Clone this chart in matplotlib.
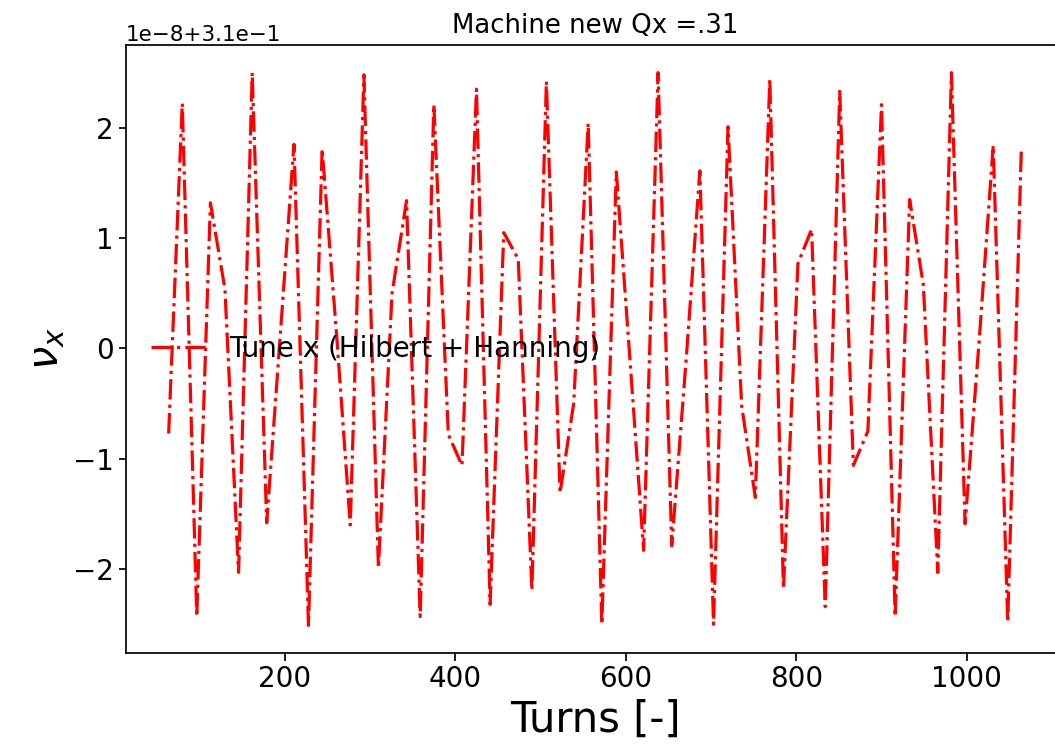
import matplotlib
matplotlib.use("Agg")
import matplotlib.pyplot as plt
import numpy as np

# turn number of each tune estimate
turns = [64, 80, 97, 113, 130, 146, 162, 179, 195, 211, 228, 244, 261, 277, 293, 310,
         326, 343, 359, 375, 392, 408, 425, 441, 457, 474, 490, 507, 523, 539, 556, 572,
         589, 605, 621, 638, 654, 671, 687, 703, 720, 736, 752, 769, 785, 802, 818, 834,
         851, 867, 884, 900, 916, 933, 949, 966, 982, 998, 1015, 1031, 1048, 1064]

# deviation from Qx = 0.31, in units of 1e-8
dev = [-0.77, 2.22, -2.43, 1.32, 0.54, -2.03, 2.50, -1.58, 0.13, 1.85, -2.51, 1.81,
       0.12, -1.60, 2.48, -1.99, 0.50, 1.34, -2.43, 2.21, -0.78, -1.06, 2.35, -2.32,
       1.05, 0.81, -2.19, 2.42, -1.31, -0.50, 2.04, -2.50, 1.60, -0.10, -1.83, 2.50,
       -1.79, -0.09, 1.61, -2.50, 2.01, -0.52, -1.35, 2.44, -2.18, 0.77, 1.08, -2.34,
       2.33, -1.06, -0.75, 2.21, -2.43, 1.35, 0.58, -2.03, 2.50, -1.59, 0.12, 1.84,
       -2.48, 1.82]

Qx = 0.31
tune_x = Qx + np.array(dev) * 1e-8

fig = plt.figure(figsize=(10.55, 7.52), dpi=100)
# axes run past the right edge of the picture, like the cropped original
ax = fig.add_axes([126/1055, 99/752, 938/1055, 608/752])

ax.plot(turns, tune_x, 'r-.', lw=2.3, label='Tune x (Hilbert + Hanning)')

ax.set_xlabel('Turns [-]', fontsize=30)
ax.set_ylabel(r'$\nu_x$', fontsize=30)
ax.set_title('Machine new Qx =.31', fontsize=18.7, pad=9)
ax.tick_params(labelsize=20, length=5.4, width=1.24)
ax.yaxis.get_offset_text().set_fontsize(15.5)
for s in ax.spines.values():
    s.set_linewidth(1.24)
ax.spines['right'].set_visible(False)   # cut off in the original

ax.legend(loc='center left', frameon=False, fontsize=20)

fig.savefig('out.png', dpi=100)
